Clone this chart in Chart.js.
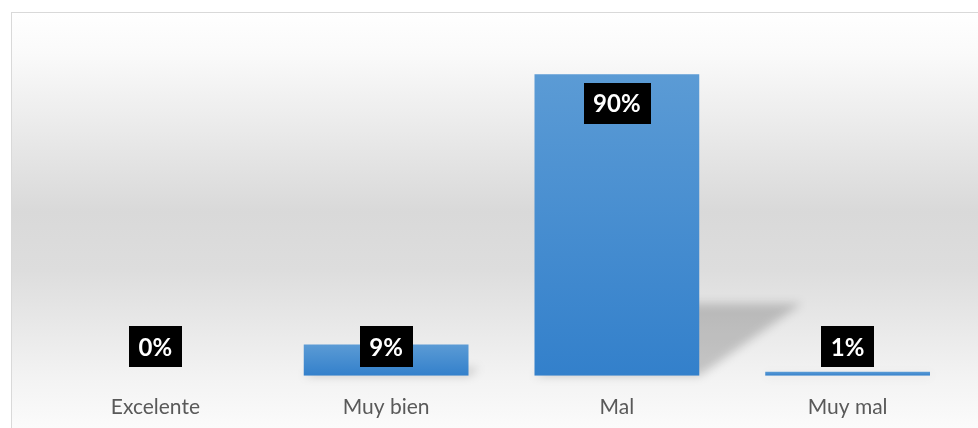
<!DOCTYPE html>
<html>
<head>
<meta charset="utf-8">
<script src="https://cdn.jsdelivr.net/npm/chart.js@4"></script>
<style>
  html, body { margin: 0; padding: 0; background: #ffffff; overflow: hidden; }
  #ctx { display: block; }
</style>
</head>
<body>
<canvas id="ctx" width="978" height="428"></canvas>
<script>
// data
const categories = ['Excelente', 'Muy bien', 'Mal', 'Muy mal'];
const shares = [0, 9.3, 89.5, 1.2];
const axisMax = 100;

const FONT = "Lato, 'Liberation Sans', sans-serif";

// background panel with frame + vertical gray band
const panelBackground = {
  id: 'panelBackground',
  beforeDraw(chart) {
    const { ctx, width, height } = chart;
    ctx.save();
    const g = ctx.createLinearGradient(0, 12, 0, height);
    g.addColorStop(0, '#ffffff');
    g.addColorStop(0.1, '#fafafa');
    g.addColorStop(0.48, '#d9d9d9');
    g.addColorStop(0.62, '#dddddd');
    g.addColorStop(0.88, '#f3f3f3');
    g.addColorStop(1, '#fbfbfb');
    ctx.fillStyle = g;
    ctx.fillRect(12, 13, width, height);
    ctx.strokeStyle = '#d9d9d9';
    ctx.lineWidth = 1;
    ctx.strokeRect(11.5, 12.5, width + 20, height + 20);
    ctx.restore();
  }
};

// soft perspective shadow falling to the right of each bar
const barShadow = {
  id: 'barShadow',
  beforeDatasetsDraw(chart) {
    const { ctx } = chart;
    const meta = chart.getDatasetMeta(0);
    ctx.save();
    ctx.filter = 'blur(5px)';
    ctx.fillStyle = 'rgba(0,0,0,0.19)';
    meta.data.forEach((bar) => {
      const h = bar.base - bar.y;
      if (h < 2) return;
      const left = bar.x - bar.width / 2;
      const right = bar.x + bar.width / 2;
      const sh = h * 0.24;
      const dx = h * 0.34;
      ctx.beginPath();
      ctx.moveTo(left, bar.base);
      ctx.lineTo(right, bar.base);
      ctx.lineTo(right + dx, bar.base - sh);
      ctx.lineTo(left + dx, bar.base - sh);
      ctx.closePath();
      ctx.fill();
    });
    ctx.restore();
  }
};

// black boxes with white percentage text
const boxLabels = {
  id: 'boxLabels',
  afterDatasetsDraw(chart) {
    const { ctx } = chart;
    const meta = chart.getDatasetMeta(0);
    ctx.save();
    ctx.font = 'bold 24px ' + FONT;
    ctx.textAlign = 'center';
    ctx.textBaseline = 'middle';
    meta.data.forEach((bar, i) => {
      const txt = Math.round(shares[i]) + '%';
      const w = ctx.measureText(txt).width + 19;
      const hBox = 41;
      const cy = Math.min(bar.y + 29, bar.base - 29);
      ctx.fillStyle = '#000000';
      ctx.fillRect(Math.round(bar.x - w / 2), Math.round(cy - hBox / 2), Math.round(w), hBox);
      ctx.fillStyle = '#ffffff';
      ctx.fillText(txt, bar.x, cy + 1);
    });
    ctx.restore();
  }
};

function barGradient(context) {
  const chart = context.chart;
  const y = chart.scales.y;
  if (!y || context.raw === undefined) return '#4a8fd2';
  const top = y.getPixelForValue(context.raw);
  const base = y.getPixelForValue(0);
  if (!isFinite(top) || base - top < 1) return '#4a8fd2';
  const g = chart.ctx.createLinearGradient(0, top, 0, base);
  g.addColorStop(0, '#5b9bd5');
  g.addColorStop(1, '#3380cb');
  return g;
}

new Chart(document.getElementById('ctx'), {
  type: 'bar',
  data: {
    labels: categories,
    datasets: [{
      data: shares,
      backgroundColor: barGradient,
      borderWidth: 0,
      categoryPercentage: 1,
      barPercentage: 0.714
    }]
  },
  options: {
    responsive: false,
    animation: false,
    layout: { padding: { left: 40, right: 15, top: 39, bottom: -3 } },
    scales: {
      x: {
        grid: { display: false },
        border: { display: false },
        ticks: { color: '#595959', font: { family: FONT, size: 21 }, padding: 11 }
      },
      y: {
        display: false,
        min: 0,
        max: axisMax
      }
    },
    plugins: {
      legend: { display: false },
      tooltip: { enabled: false }
    }
  },
  plugins: [panelBackground, barShadow, boxLabels]
});
</script>
</body>
</html>
